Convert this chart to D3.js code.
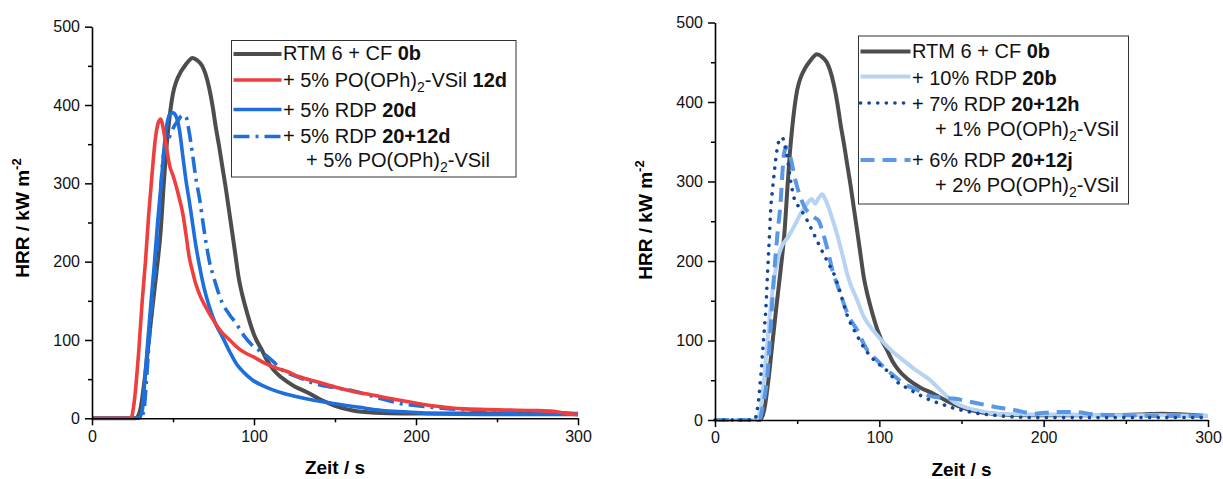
<!DOCTYPE html>
<html>
<head>
<meta charset="utf-8">
<script src="https://cdn.jsdelivr.net/npm/d3@7"></script>
<style>
  html, body { margin: 0; padding: 0; background: #fff; }
  svg { display: block; font-family: "Liberation Sans", Arial, sans-serif; }
</style>
</head>
<body>
<svg id="chart" width="1223" height="479"></svg>
<script>
// Axis ticks (time in s, heat release rate in kW m^-2)
const xTicks = [0, 100, 200, 300];
const xMinorTicks = [50, 150, 250];
const yTicks = [0, 100, 200, 300, 400, 500];
const yMinorTicks = [50, 150, 250, 350, 450];

// Cone calorimeter HRR curves: [time s, HRR kW m^-2]
const hrr0b = [[0,0],[27,0],[28.5,3],[30,13],[32.5,50],[35,98],[37.5,145],[40,190],[42.5,242],[44,290],[45.5,334],[47,368],[48.5,395],[50,415],[52,430],[55,443],[58,452],[60,457],[62,460],[65,457],[68,450],[70,440],[72.3,422],[74.5,398],[76.4,372],[78.5,347],[80.4,322],[82.5,295],[84.4,268],[86.5,238],[88.5,209],[90.5,180],[92.5,160],[95,140],[98.6,115],[101,102],[104.7,88],[108,74],[112,62],[117,52],[124.8,41],[133,33],[141,24],[150,16],[161,10],[175,7],[191,6],[212,6],[240,6],[260,7],[272,8],[285,7],[300,5]];

const hrr12d = [[0,0],[24,0],[26,20],[29,90],[31,150],[33,200],[35,260],[37,310],[39,355],[41,378],[42.5,382],[44,370],[46,345],[48,322],[50,310],[52,296],[54,280],[56,262],[58,235],[60,206],[62,188],[64,172],[67,155],[70,143],[75,125],[80,110],[85,100],[90,90],[95,83],[100,78],[107,70],[114,64],[120,60],[128,53],[140,46],[150,40],[160,35],[175,29],[190,23],[210,16],[230,12],[250,11],[272,10],[285,9],[293,6],[300,5]];

const hrr20d = [[0,0],[29,0],[31,10],[33,60],[34.5,100],[36.5,150],[38.6,200],[40.5,250],[42.7,300],[44.5,345],[46,372],[48,388],[50,390],[52,385],[54,368],[56,336],[58,304],[60,278],[62,250],[64,222],[66.5,193],[69,168],[72.5,142],[76,122],[80.5,104],[85,85],[89,70],[94,58],[99,49],[105,42],[112,36],[118,32],[130,26],[149,19],[165,14],[179,10],[195,8],[210,6],[240,5],[270,5],[300,5]];

const hrr20_12d = [[0,0],[30,0],[32,10],[34,60],[36,120],[38,170],[40,210],[42,280],[44,334],[46,352],[48,360],[50,370],[53,380],[56,387],[58,385],[60,365],[62,338],[64,308],[66.5,279],[68.5,250],[70.5,223],[72.5,200],[75,181],[80.5,147],[85,132],[89,121],[94,105],[99,93],[105,84],[110,76],[118,61],[128,52],[138,44],[150,39],[159,36],[175,27],[190,19],[205,15],[221,12],[240,10],[255,8],[275,7],[300,6]];

const hrr20b = [[0,0],[25,0],[27,8],[28,17],[30,55],[32,100],[33.5,135],[35,163],[37,190],[39,209],[41,220],[43,226],[45,232],[48,243],[52,259],[56,272],[59,278],[61,272],[63,279],[65.3,284],[67,278],[68.3,272],[70,262],[72.3,247],[74.5,232],[76.4,217],[78.5,200],[80.4,184],[82.4,171],[86.5,151],[90.5,130],[95,116],[100.6,102],[107,88],[114.7,75],[122,63],[131,50],[136,40],[141,30],[146,22],[151,17],[160,12],[171,8],[190,7],[210,7],[240,6],[270,6],[300,5]];

const hrr20_12h = [[0,0],[24,0],[25,5],[26.5,25],[28,59],[29.5,100],[31,142],[32,185],[33,226],[34,268],[35,290],[36,310],[38,343],[40,355],[41,355],[42.5,345],[44,330],[46,301],[48,280],[51,268],[54,259],[58,243],[62,226],[66,209],[70.3,192],[72.3,184],[76.4,159],[80.4,132],[86.5,106],[91,90],[96.5,76],[104.7,62],[110.7,48],[117,40],[124,32],[131,25],[138,20],[145,15],[153,11],[161,8],[170,6],[181,4],[200,3],[230,3],[260,3],[300,3]];

const hrr20_12j = [[0,0],[27,0],[29,17],[32,59],[34,121],[36,184],[38,234],[40,276],[41,310],[42,335],[43.5,343],[45,338],[46,330],[49,301],[52,280],[55,266],[58,259],[61,254],[63,251],[65,240],[67,226],[69,210],[71,192],[74.4,170],[76.4,159],[78.4,146],[82,128],[86.5,113],[92,90],[98.6,75],[104,64],[108.7,56],[114.7,46],[122.8,38],[131,30],[138,28],[145,27],[155,23],[162,20],[169,17],[181,13],[195,8],[207,10],[219,10],[231,7],[252,6],[272,5],[300,5]];

// Line styles
const styles = {
  ref:   { color: "#4d4d4d", width: 4,   dash: null },
  red:   { color: "#ef3e3e", width: 3.6, dash: null },
  blue:  { color: "#1f6fdb", width: 3.6, dash: null },
  dashDot: { color: "#1f6fdb", width: 3.6, dash: "16,6,3,6" },
  light: { color: "#b7d3f3", width: 4,   dash: null },
  dotted:{ color: "#12479a", width: 3.6, dash: "0.1,8.5", cap: "round" },
  dashed:{ color: "#5a97e6", width: 4,   dash: "14,8" }
};

const svg = d3.select("#chart");

function drawPanel(cfg) {
  const x = d3.scaleLinear().domain([0, 300]).range([cfg.x0, cfg.x1]);
  const y = d3.scaleLinear().domain([0, 500]).range([cfg.y0, cfg.y1]);
  const g = svg.append("g");

  // Minor ticks
  g.append("g").attr("transform", `translate(0,${cfg.y0})`)
    .call(d3.axisBottom(x).tickValues(xMinorTicks).tickSize(4).tickSizeOuter(0).tickFormat(""))
    .call(a => a.select(".domain").remove())
    .call(a => a.selectAll("line").attr("stroke", "#000").attr("stroke-width", 1.5));
  g.append("g").attr("transform", `translate(${cfg.x0},0)`)
    .call(d3.axisLeft(y).tickValues(yMinorTicks).tickSize(4).tickSizeOuter(0).tickFormat(""))
    .call(a => a.select(".domain").remove())
    .call(a => a.selectAll("line").attr("stroke", "#000").attr("stroke-width", 1.5));

  // Curves
  const line = d3.line().x(d => x(d[0])).y(d => y(d[1])).curve(d3.curveMonotoneX);
  cfg.series.forEach(s => {
    const st = styles[s.style];
    g.append("path").datum(s.data)
      .attr("d", line)
      .attr("fill", "none")
      .attr("stroke", st.color)
      .attr("stroke-width", st.width)
      .attr("stroke-linejoin", "round")
      .attr("stroke-linecap", st.cap || "butt")
      .attr("stroke-dasharray", st.dash);
  });

  // Major axes
  const xAxis = g.append("g").attr("transform", `translate(0,${cfg.y0})`)
    .call(d3.axisBottom(x).tickValues(xTicks).tickSize(7).tickSizeOuter(0).tickPadding(5));
  const yAxis = g.append("g").attr("transform", `translate(${cfg.x0},0)`)
    .call(d3.axisLeft(y).tickValues(yTicks).tickSize(7).tickSizeOuter(0).tickPadding(5));
  [xAxis, yAxis].forEach(a => {
    a.attr("font-family", null).attr("font-size", null);
    a.select(".domain").attr("stroke", "#000").attr("stroke-width", 1.6);
    a.selectAll("line").attr("stroke", "#000").attr("stroke-width", 1.5);
    a.selectAll("text").attr("fill", "#111").style("font-size", "16px");
  });

  // Axis titles
  g.append("text")
    .attr("x", (cfg.x0 + cfg.x1) / 2).attr("y", cfg.xTitleY)
    .attr("text-anchor", "middle")
    .style("font-size", "19px").style("font-weight", "bold")
    .text("Zeit / s");

  const yt = g.append("text")
    .attr("transform", `translate(${cfg.yTitleX},${cfg.yTitleCY}) rotate(-90)`)
    .attr("text-anchor", "middle")
    .style("font-size", "19px").style("font-weight", "bold");
  yt.append("tspan").text("HRR / kW m");
  yt.append("tspan").attr("dy", -8).style("font-size", "13px").text("-2");

  // Legend
  const lg = cfg.legend;
  g.append("rect")
    .attr("x", lg.x).attr("y", lg.y).attr("width", lg.w).attr("height", lg.h)
    .attr("fill", "#fff").attr("stroke", "#333").attr("stroke-width", 1);
  lg.rows.forEach(r => {
    if (r.style) {
      const st = styles[r.style];
      g.append("line")
        .attr("x1", lg.x + 2).attr("x2", lg.x + lg.sampleLen)
        .attr("y1", r.lineY).attr("y2", r.lineY)
        .attr("stroke", st.color).attr("stroke-width", st.width)
        .attr("stroke-linecap", st.cap || "butt")
        .attr("stroke-dasharray", st.dash);
    }
    const t = g.append("text")
      .attr("x", r.indent ? lg.indentX : lg.textX).attr("y", r.base)
      .style("font-size", "20px").attr("fill", "#111");
    let shift = 0;
    r.parts.forEach(p => {
      const ts = t.append("tspan").text(p.t);
      if (p.b) ts.style("font-weight", "bold");
      if (p.sub) { ts.attr("dy", 5).style("font-size", "14px"); shift = 5; }
      else if (shift) { ts.attr("dy", -shift); shift = 0; }
    });
  });
}

const poVSil = pct => [{t: `+ ${pct} PO(OPh)`}, {t: "2", sub: true}, {t: "-VSil"}];

drawPanel({
  x0: 92, x1: 578, y0: 418.3, y1: 26.7,
  xTitleY: 474, yTitleX: 29, yTitleCY: 218,
  series: [
    {data: hrr0b, style: "ref"},
    {data: hrr20d, style: "blue"},
    {data: hrr20_12d, style: "dashDot"},
    {data: hrr12d, style: "red"}
  ],
  legend: {
    x: 231.5, y: 40.5, w: 284.5, h: 136.5, sampleLen: 50, textX: 283, indentX: 306,
    rows: [
      {style: "ref", lineY: 54, base: 60, parts: [{t: "RTM 6 + CF "}, {t: "0b", b: true}]},
      {style: "red", lineY: 80, base: 86.5, parts: [...poVSil("5%"), {t: " "}, {t: "12d", b: true}]},
      {style: "blue", lineY: 109.5, base: 116.5, parts: [{t: "+ 5% RDP "}, {t: "20d", b: true}]},
      {style: "dashDot", lineY: 136.5, base: 142.5, parts: [{t: "+ 5% RDP "}, {t: "20+12d", b: true}]},
      {indent: true, base: 167, parts: poVSil("5%")}
    ]
  }
});

drawPanel({
  x0: 715, x1: 1208, y0: 420, y1: 22.5,
  xTitleY: 476, yTitleX: 652, yTitleCY: 220,
  series: [
    {data: hrr0b, style: "ref"},
    {data: hrr20b, style: "light"},
    {data: hrr20_12j, style: "dashed"},
    {data: hrr20_12h, style: "dotted"}
  ],
  legend: {
    x: 858.5, y: 36, w: 270, h: 168, sampleLen: 52, textX: 912, indentX: 935,
    rows: [
      {style: "ref", lineY: 51.5, base: 58, parts: [{t: "RTM 6 + CF "}, {t: "0b", b: true}]},
      {style: "light", lineY: 76.5, base: 84.5, parts: [{t: "+ 10% RDP "}, {t: "20b", b: true}]},
      {style: "dotted", lineY: 103, base: 111, parts: [{t: "+ 7% RDP "}, {t: "20+12h", b: true}]},
      {indent: true, base: 136, parts: poVSil("1%")},
      {style: "dashed", lineY: 160, base: 167, parts: [{t: "+ 6% RDP "}, {t: "20+12j", b: true}]},
      {indent: true, base: 191.5, parts: poVSil("2%")}
    ]
  }
});
</script>
</body>
</html>
